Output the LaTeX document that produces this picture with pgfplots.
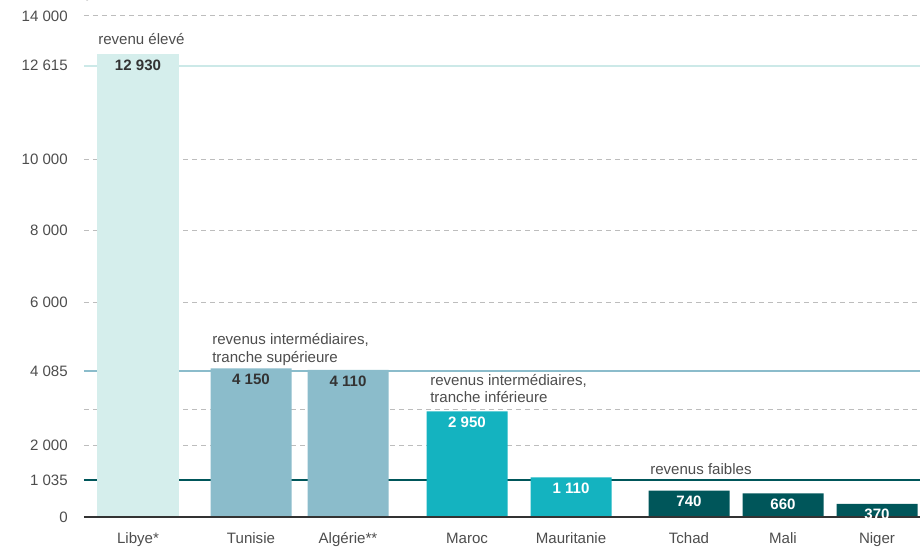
\documentclass[border=0pt]{standalone}
\usepackage{fontspec}
\setmainfont{Liberation Sans}
\usepackage{pgfplots}
\pgfplotsset{compat=1.18}
\definecolor{lightbar}{HTML}{D5EEEC}
\definecolor{lightline}{HTML}{CCE9E8}
\definecolor{midbar}{HTML}{8BBCCB}
\definecolor{tealbar}{HTML}{14B3C0}
\definecolor{darkbar}{HTML}{00565A}
\definecolor{labelgray}{HTML}{4D4D4D}
\definecolor{gridgray}{HTML}{BDBDBD}
\definecolor{valdark}{HTML}{333333}
\newcommand{\lblfont}{\fontsize{11.3}{13}\selectfont}
\begin{document}
\begin{tikzpicture}
\useasboundingbox (-63pt,-21.75pt) rectangle (627pt,387.75pt);
\begin{axis}[
  scale only axis, width=627pt, height=375.75pt,
  xmin=84, xmax=920, ymin=0, ymax=14000,
  axis line style={draw=none},
  major tick length=0pt,
  xtick={138,251,348,467,571,689,783,877},
  xticklabels={Libye*,Tunisie,Algérie**,Maroc,Mauritanie,Tchad,Mali,Niger},
  ytick={0,1035,2000,4085,6000,8000,10000,12615,14000},
  yticklabels={0,1 035,2 000,4 085,6 000,8 000,10 000,12 615,14 000},
  ticklabel style={font=\lblfont, text=labelgray},
  yticklabel style={anchor=east, inner sep=0pt, xshift=-12pt},
  xticklabel style={anchor=base, inner sep=0pt, yshift=-19.5pt},
  clip=false,
  every axis plot/.append style={forget plot},
]
% dashed grid
\addplot[draw=gridgray, line width=0.75pt, dash pattern=on 3.75pt off 3pt] coordinates {(84,14000) (920,14000)};
\addplot[draw=gridgray, line width=0.75pt, dash pattern=on 3.75pt off 3pt] coordinates {(84,10000) (920,10000)};
\addplot[draw=gridgray, line width=0.75pt, dash pattern=on 3.75pt off 3pt] coordinates {(84,8000) (920,8000)};
\addplot[draw=gridgray, line width=0.75pt, dash pattern=on 3.75pt off 3pt] coordinates {(84,6000) (920,6000)};
\addplot[draw=gridgray, line width=0.75pt, dash pattern=on 3.75pt off 3pt] coordinates {(84,3000) (920,3000)};
\addplot[draw=gridgray, line width=0.75pt, dash pattern=on 3.75pt off 3pt] coordinates {(84,2000) (920,2000)};
% thresholds
\addplot[draw=lightline, line width=1.5pt] coordinates {(84,12615) (920,12615)};
\addplot[draw=midbar, line width=1.5pt] coordinates {(84,4085) (920,4085)};
\addplot[draw=darkbar, line width=1.5pt] coordinates {(84,1035) (920,1035)};
% bars
\addplot[ybar, bar width=81, bar shift=0pt, fill=lightbar, draw=none,
  point meta=explicit symbolic, nodes near coords,
  every node near coord/.append style={anchor=north, inner sep=0pt, yshift=-4pt, font=\lblfont\bfseries, text=valdark}]
  coordinates {(138,12930) [12 930]};
\addplot[ybar, bar width=81, bar shift=0pt, fill=midbar, draw=none,
  point meta=explicit symbolic, nodes near coords,
  every node near coord/.append style={anchor=north, inner sep=0pt, yshift=-4pt, font=\lblfont\bfseries, text=valdark}]
  coordinates {(251,4150) [4 150] (348,4110) [4 110]};
\addplot[ybar, bar width=81, bar shift=0pt, fill=tealbar, draw=none,
  point meta=explicit symbolic, nodes near coords,
  every node near coord/.append style={anchor=north, inner sep=0pt, yshift=-4pt, font=\lblfont\bfseries, text=white}]
  coordinates {(467,2950) [2 950] (571,1110) [1 110]};
\addplot[ybar, bar width=81, bar shift=0pt, fill=darkbar, draw=none,
  point meta=explicit symbolic, nodes near coords,
  every node near coord/.append style={anchor=north, inner sep=0pt, yshift=-4pt, font=\lblfont\bfseries, text=white}]
  coordinates {(689,740) [740] (783,660) [660] (877,370) [370]};
% zero line
\addplot[draw=valdark, line width=1.5pt] coordinates {(84,0) (920,0)};
% group annotations
\node[anchor=base west, inner sep=0pt, font=\lblfont, text=labelgray] at (axis cs:98,13190) {revenu élevé};
\node[anchor=base west, inner sep=0pt, font=\lblfont, text=labelgray] at (axis cs:212,4834) {revenus intermédiaires,};
\node[anchor=base west, inner sep=0pt, font=\lblfont, text=labelgray] at (axis cs:212,4331) {tranche supérieure};
\node[anchor=base west, inner sep=0pt, font=\lblfont, text=labelgray] at (axis cs:430,3661) {revenus intermédiaires,};
\node[anchor=base west, inner sep=0pt, font=\lblfont, text=labelgray] at (axis cs:430,3186) {tranche inférieure};
\node[anchor=base west, inner sep=0pt, font=\lblfont, text=labelgray] at (axis cs:650,1174) {revenus faibles};
\end{axis}
\end{tikzpicture}
\end{document}
